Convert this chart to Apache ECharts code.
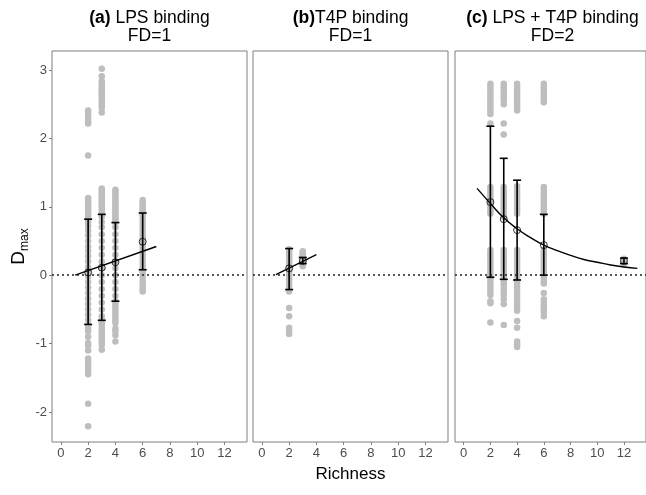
<!DOCTYPE html>
<html><head><meta charset="utf-8">
<script src="https://cdn.jsdelivr.net/npm/echarts@6/dist/echarts.min.js"></script>
<style>html,body{margin:0;padding:0;background:#fff}#c{width:646px;height:495px}</style>
</head><body><div id="c"></div>
<script>
// ---------- data ----------
const xTicks = [0, 2, 4, 6, 8, 10, 12];
const yTicks = [-2, -1, 0, 1, 2, 3];
const panelTitles = ['{b|(a)} LPS binding\nFD=1', '{b|(b)}T4P binding\nFD=1', '{b|(c)} LPS + T4P binding\nFD=2'];

// Panel (a) LPS binding: raw points by richness
const a_rich = [2, 3, 4, 6];
const a_r2 = [2.41,2.37,2.33,2.29,2.25,2.22,1.75,1.13,1.10,1.07,1.04,1.01,0.98,0.95,0.92,0.89,0.86,0.83,0.78,0.72,0.65,0.58,0.50,0.42,0.35,0.28,0.20,0.12,0.05,-0.02,-0.10,-0.18,-0.26,-0.34,-0.42,-0.50,-0.58,-0.65,-0.73,-0.78,-0.82,-0.90,-0.99,-1.03,-1.10,-1.22,-1.27,-1.31,-1.35,-1.41,-1.45,-1.88,-2.21];
const a_r3 = [3.02,2.91,2.84,2.80,2.77,2.74,2.71,2.68,2.65,2.62,2.59,2.56,2.52,2.48,2.45,2.38,1.27,1.24,1.21,1.18,1.15,1.12,1.09,1.06,1.03,1.00,0.97,0.93,0.90,0.85,0.78,0.70,0.60,0.50,0.40,0.30,0.20,0.10,0.00,-0.10,-0.20,-0.30,-0.40,-0.50,-0.60,-0.66,-0.70,-0.74,-0.78,-0.82,-0.86,-0.90,-0.94,-0.98,-1.02,-1.09];
const a_r4 = [1.25,1.22,1.19,1.16,1.13,1.10,1.07,1.04,1.01,0.98,0.95,0.92,0.89,0.86,0.83,0.80,0.77,0.70,0.60,0.50,0.40,0.30,0.20,0.10,0.00,-0.10,-0.20,-0.30,-0.38,-0.42,-0.46,-0.50,-0.54,-0.58,-0.62,-0.66,-0.70,-0.78,-0.82,-0.88,-0.97];
const a_r6 = [1.10,1.07,1.04,1.01,0.98,0.95,0.92,0.89,0.85,0.80,0.75,0.70,0.65,0.60,0.55,0.50,0.45,0.40,0.35,0.30,0.25,0.20,0.15,0.10,0.06,0.02,-0.03,-0.08,-0.12,-0.17,-0.21,-0.24];
const a_mean = [0.04, 0.11, 0.19, 0.49];
const a_lo = [-0.72, -0.66, -0.38, 0.08];
const a_hi = [0.82, 0.89, 0.77, 0.91];
const a_fitX = [1.05, 7.0];
const a_fitY = [0.00, 0.42];

// Panel (b) T4P binding
const b_rich = [2, 3];
const b_r2 = [0.38,0.35,0.32,0.29,0.26,0.23,0.20,0.17,0.14,0.11,0.08,0.05,0.02,-0.02,-0.06,-0.10,-0.14,-0.18,-0.24,-0.48,-0.60,-0.77,-0.81,-0.86];
const b_r3 = [0.35,0.33,0.31,0.29,0.27,0.25,0.23,0.21,0.19,0.17,0.15,0.13];
const b_mean = [0.10, 0.21];
const b_lo = [-0.21, 0.17];
const b_hi = [0.39, 0.26];
const b_fitX = [1.03, 4.0];
const b_fitY = [0.01, 0.30];

// Panel (c) LPS + T4P binding
const c_rich = [2, 3, 4, 6, 12];
const c_r2 = [2.80,2.76,2.72,2.68,2.64,2.60,2.56,2.52,2.48,2.44,2.40,2.36,2.22,1.29,1.25,1.21,1.17,1.13,1.09,1.05,1.01,0.97,0.93,0.90,0.37,0.33,0.29,0.25,0.21,0.17,0.13,0.09,0.05,0.01,-0.03,-0.07,-0.11,-0.15,-0.20,-0.25,-0.29,-0.38,-0.41,-0.69];
const c_r3 = [2.80,2.76,2.72,2.68,2.64,2.60,2.56,2.50,2.22,2.06,1.29,1.25,1.21,1.17,1.13,1.09,1.05,1.01,0.97,0.93,0.89,0.85,0.37,0.33,0.29,0.25,0.21,0.17,0.13,0.09,0.05,0.01,-0.03,-0.07,-0.11,-0.15,-0.20,-0.25,-0.30,-0.35,-0.42,-0.73];
const c_r4 = [2.80,2.76,2.72,2.68,2.64,2.60,2.56,2.52,2.48,2.44,2.41,1.30,1.26,1.22,1.18,1.14,1.10,1.06,1.02,0.98,0.94,0.90,0.37,0.33,0.29,0.25,0.21,0.17,0.13,0.09,0.05,0.01,-0.03,-0.08,-0.12,-0.17,-0.22,-0.27,-0.32,-0.37,-0.42,-0.47,-0.52,-0.67,-0.77,-0.97,-1.01,-1.05];
const c_r6 = [2.80,2.76,2.72,2.68,2.64,2.60,2.56,2.53,1.29,1.25,1.21,1.17,1.13,1.09,1.05,1.01,0.97,0.93,0.90,0.37,0.33,0.29,0.25,0.21,0.17,0.13,0.09,0.05,0.01,-0.03,-0.08,-0.12,-0.26,-0.35,-0.39,-0.43,-0.47,-0.51,-0.55,-0.60];
const c_r12 = [0.24,0.21,0.18,0.16];
const c_mean = [1.07, 0.82, 0.66, 0.44, 0.21];
const c_lo = [-0.03, -0.06, -0.07, 0.00, 0.17];
const c_hi = [2.18, 1.71, 1.39, 0.89, 0.25];
const c_fitX = [1, 2, 3, 4, 5, 6, 7, 8, 9, 10, 11, 12, 13];
const c_fitY = [1.27, 1.05, 0.84, 0.68, 0.55, 0.44, 0.36, 0.29, 0.23, 0.19, 0.15, 0.12, 0.10];

// ---------- build ----------
const FONT = "'Liberation Sans', Arial, sans-serif";
const panels = [
  {rich: a_rich, raw: [a_r2, a_r3, a_r4, a_r6], mean: a_mean, lo: a_lo, hi: a_hi, fx: a_fitX, fy: a_fitY, smooth: false},
  {rich: b_rich, raw: [b_r2, b_r3], mean: b_mean, lo: b_lo, hi: b_hi, fx: b_fitX, fy: b_fitY, smooth: false},
  {rich: c_rich, raw: [c_r2, c_r3, c_r4, c_r6, c_r12], mean: c_mean, lo: c_lo, hi: c_hi, fx: c_fitX, fy: c_fitY, smooth: true}
];
const gridLefts = [52, 253, 455];
const grids = gridLefts.map(l => ({left: l, top: 51, width: 195, height: 391, show: true,
  borderColor: '#7f7f7f', borderWidth: 1, backgroundColor: 'transparent', containLabel: false}));

const xAxes = panels.map((p, i) => ({
  type: 'value', gridIndex: i, min: -0.65, max: 13.65, position: 'bottom',
  axisLine: {show: false, onZero: false}, splitLine: {show: false},
  axisTick: {show: true, length: 3, customValues: xTicks, lineStyle: {color: '#7f7f7f', width: 1}},
  axisLabel: {show: true, customValues: xTicks, margin: 5, color: '#4d4d4d', fontSize: 13, fontFamily: FONT},
  name: i === 1 ? 'Richness' : '', nameLocation: 'middle', nameGap: 24,
  nameTextStyle: {fontSize: 17, color: '#000', fontFamily: FONT}
}));
const yAxes = panels.map((p, i) => ({
  type: 'value', gridIndex: i, min: -2.44, max: 3.28, position: 'left',
  axisLine: {show: false, onZero: false}, splitLine: {show: false},
  axisTick: {show: i === 0, length: 3, customValues: yTicks, lineStyle: {color: '#7f7f7f', width: 1}},
  axisLabel: {show: i === 0, customValues: yTicks, margin: 5, color: '#4d4d4d', fontSize: 13, fontFamily: FONT},
  name: i === 0 ? '{d|D}{s|max}' : '', nameLocation: 'middle', nameRotate: 90, nameGap: 24,
  nameTextStyle: {fontFamily: FONT, rich: {d: {fontSize: 19, color: '#000', fontFamily: FONT}, s: {fontSize: 12, color: '#000', fontFamily: FONT, verticalAlign: 'bottom', padding: [0, 0, -3, 0]}}}
}));

const series = [];
panels.forEach((p, i) => {
  const pts = [];
  p.raw.forEach((vals, k) => vals.forEach(v => pts.push([p.rich[k], v])));
  series.push({type: 'scatter', xAxisIndex: i, yAxisIndex: i, data: pts, symbolSize: 6.5,
    itemStyle: {color: '#bebebe', opacity: 1}, z: 1, silent: true,
    markLine: {silent: true, symbol: 'none', label: {show: false},
      lineStyle: {color: '#222', type: [2, 3], width: 1.5}, data: [{yAxis: 0}]}});
  series.push({type: 'custom', xAxisIndex: i, yAxisIndex: i, z: 3,
    data: p.rich.map((x, k) => [x, p.lo[k], p.hi[k]]),
    encode: {x: 0, y: [1, 2]},
    renderItem: function (params, api) {
      const x = api.value(0);
      const lo = api.coord([x, api.value(1)]);
      const hi = api.coord([x, api.value(2)]);
      const st = {stroke: '#000', lineWidth: 1.6};
      return {type: 'group', children: [
        {type: 'line', shape: {x1: lo[0], y1: lo[1], x2: hi[0], y2: hi[1]}, style: st},
        {type: 'line', shape: {x1: lo[0] - 4, y1: lo[1], x2: lo[0] + 4, y2: lo[1]}, style: st},
        {type: 'line', shape: {x1: hi[0] - 4, y1: hi[1], x2: hi[0] + 4, y2: hi[1]}, style: st}
      ]};
    }});
  series.push({type: 'line', xAxisIndex: i, yAxisIndex: i, z: 4, showSymbol: false, smooth: p.smooth,
    data: p.fx.map((x, k) => [x, p.fy[k]]), lineStyle: {color: '#000', width: 1.4}});
  series.push({type: 'scatter', xAxisIndex: i, yAxisIndex: i, z: 5, symbol: 'circle', symbolSize: 7,
    data: p.rich.map((x, k) => [x, p.mean[k]]),
    itemStyle: {color: 'rgba(0,0,0,0)', borderColor: '#000', borderWidth: 1}});
});

const titles = panelTitles.map((t, i) => ({
  text: t, left: gridLefts[i] + 97.5, top: 9, textAlign: 'center', padding: 0,
  textStyle: {fontFamily: FONT, fontSize: 17.5, fontWeight: 'normal', color: '#000', lineHeight: 18,
    rich: {b: {fontFamily: FONT, fontSize: 17.5, fontWeight: 'bold', color: '#000', lineHeight: 18}}}
}));

const chart = echarts.init(document.getElementById('c'), null, {renderer: 'canvas'});
chart.setOption({animation: false, title: titles, grid: grids, xAxis: xAxes, yAxis: yAxes, series: series});
</script></body></html>
